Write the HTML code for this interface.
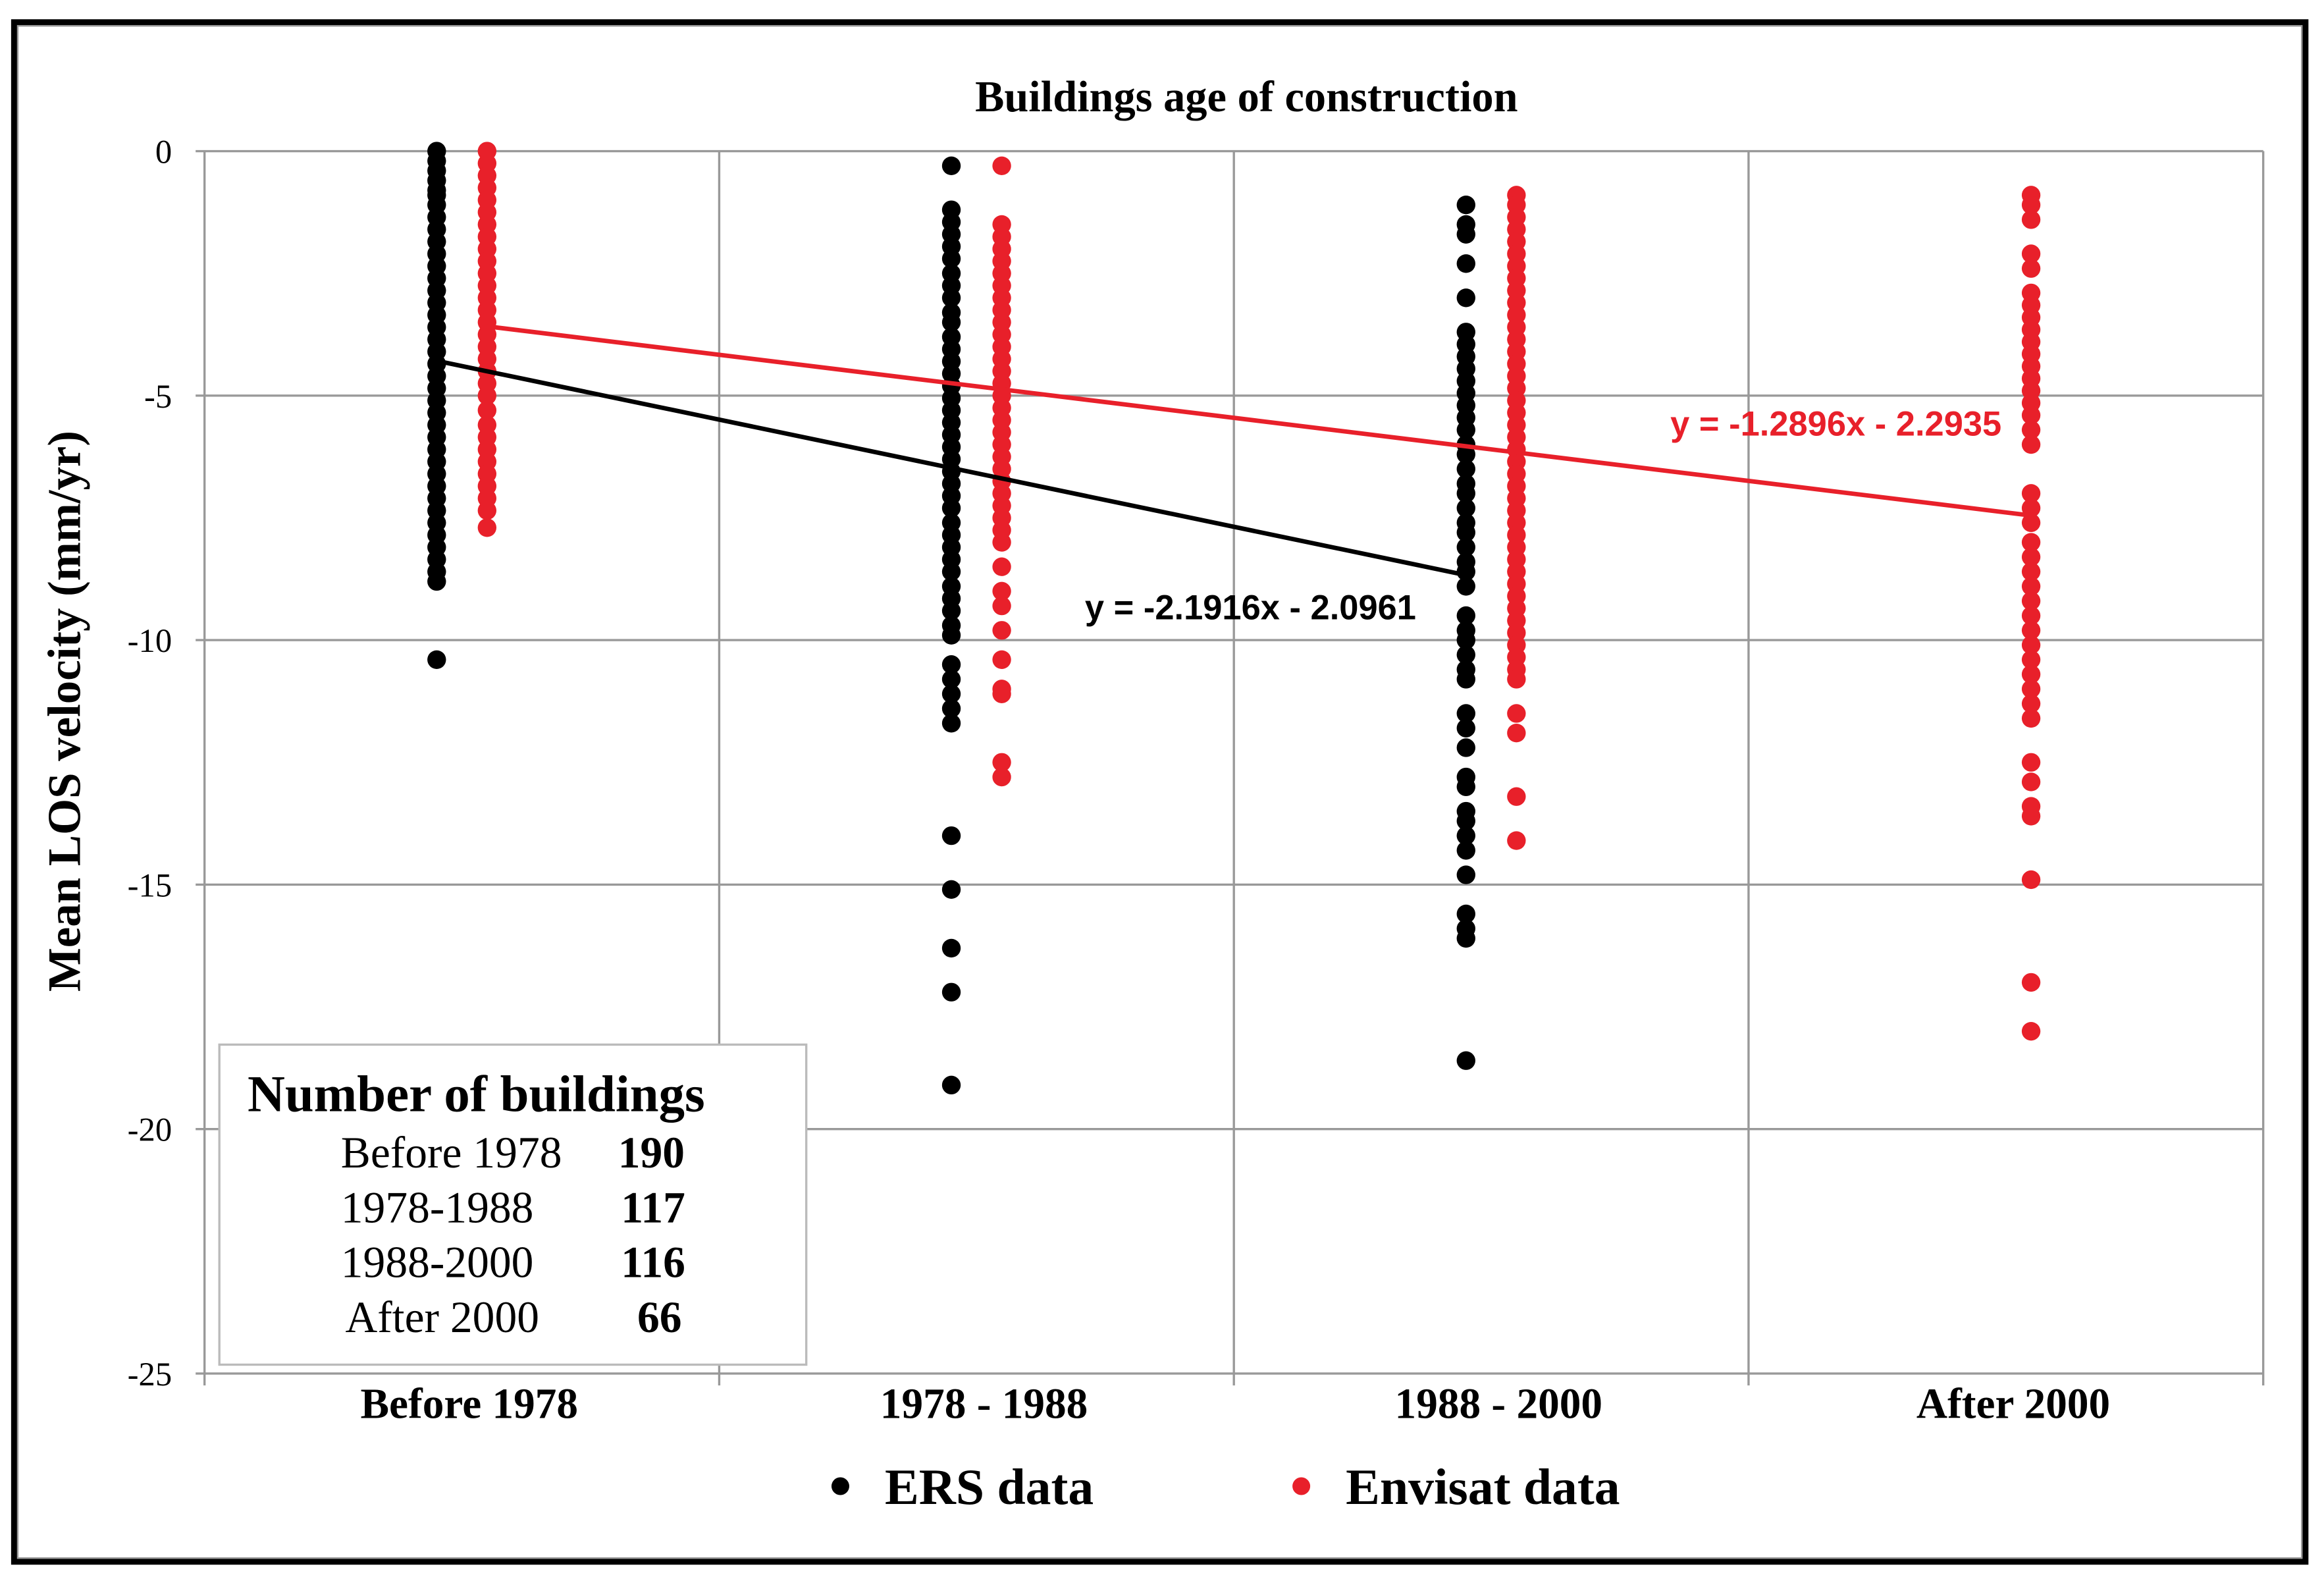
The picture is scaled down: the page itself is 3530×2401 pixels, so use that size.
<!DOCTYPE html>
<html><head><meta charset="utf-8"><style>
html,body{margin:0;padding:0;background:#fff}
svg{display:block}
</style></head><body>
<svg id="chart" width="3530" height="2401" viewBox="0 0 1568 1067" preserveAspectRatio="none" xmlns="http://www.w3.org/2000/svg">
<rect x="0" y="0" width="1568" height="1067" fill="#fff"/>
<rect x="9.5" y="15" width="1546" height="1039" fill="none" stroke="#000" stroke-width="4"/>
<rect x="12" y="17.5" width="1541" height="1034" fill="none" stroke="#999" stroke-width="1"/>
<text x="841" y="75" text-anchor="middle" font-family="Liberation Serif, serif" font-weight="bold" font-size="29.5">Buildings age of construction</text>
<g id="grid"></g>
<g id="ylabels"></g>
<text transform="translate(54,480) rotate(-90)" text-anchor="middle" font-family="Liberation Serif, serif" font-weight="bold" font-size="31.5">Mean LOS velocity (mm/yr)</text>
<g id="xlabels"></g>
<g id="points"></g>
<g id="trends"></g>
<text x="732" y="418" font-family="Liberation Sans, sans-serif" font-weight="bold" font-size="23.3" fill="#000">y = -2.1916x - 2.0961</text>
<text x="1127" y="294" font-family="Liberation Sans, sans-serif" font-weight="bold" font-size="23.3" fill="#e8202a">y = -1.2896x - 2.2935</text>
<g font-family="Liberation Serif, serif">
<rect x="148" y="705" width="396" height="216" fill="#fff" stroke="#bbb" stroke-width="1.5"/>
<text x="167" y="750" font-weight="bold" font-size="35">Number of buildings</text>
<g font-size="30">
<text x="230" y="788">Before 1978</text><text x="417" y="788" font-weight="bold">190</text>
<text x="230" y="825">1978-1988</text><text x="419" y="825" font-weight="bold">117</text>
<text x="230" y="862">1988-2000</text><text x="419" y="862" font-weight="bold">116</text>
<text x="233" y="899">After 2000</text><text x="430" y="899" font-weight="bold">66</text>
</g></g>
<g font-family="Liberation Serif, serif" font-weight="bold" font-size="34.5">
<g><circle cx="567" cy="1003" r="6" fill="#000"/><text x="597" y="1015">ERS data</text></g>
<g><circle cx="878" cy="1003" r="6" fill="#e8202a"/><text x="908" y="1015">Envisat data</text></g>
</g>
</svg>
<script>
const categories = ["Before 1978","1978 - 1988","1988 - 2000","After 2000"];
const yTicks = [0,-5,-10,-15,-20,-25];
const ers0 = [0,-0.2,-0.4,-0.6,-0.8,-0.9,-1.1,-1.35,-1.6,-1.85,-2.1,-2.35,-2.6,-2.85,-3.1,-3.35,-3.6,-3.85,-4.1,-4.35,-4.6,-4.85,-5.1,-5.35,-5.6,-5.85,-6.1,-6.35,-6.6,-6.85,-7.1,-7.35,-7.6,-7.85,-8.1,-8.35,-8.6,-8.8,-10.4];
const ers1 = [-0.3,-1.2,-1.45,-1.7,-1.95,-2.2,-2.5,-2.75,-3,-3.3,-3.5,-3.8,-4.05,-4.3,-4.55,-4.8,-5.05,-5.3,-5.55,-5.8,-6.05,-6.3,-6.55,-6.8,-7.05,-7.3,-7.6,-7.85,-8.1,-8.35,-8.6,-8.9,-9.15,-9.4,-9.7,-9.9,-10.5,-10.8,-11.1,-11.4,-11.7,-14,-15.1,-16.3,-17.2,-19.1];
const ers2 = [-1.1,-1.5,-1.7,-2.3,-3,-3.7,-3.95,-4.2,-4.45,-4.7,-4.95,-5.2,-5.45,-5.7,-6,-6.2,-6.5,-6.8,-7,-7.3,-7.6,-7.8,-8.1,-8.4,-8.6,-8.9,-9.5,-9.8,-10,-10.3,-10.6,-10.8,-11.5,-11.8,-12.2,-12.8,-13,-13.5,-13.7,-14,-14.3,-14.8,-15.6,-15.9,-16.1,-18.6];
const env0 = [0,-0.25,-0.5,-0.75,-1,-1.25,-1.5,-1.75,-2,-2.25,-2.5,-2.75,-3,-3.25,-3.5,-3.75,-4,-4.25,-4.5,-4.75,-5,-5.3,-5.6,-5.85,-6.1,-6.35,-6.6,-6.85,-7.1,-7.35,-7.7];
const env1 = [-0.3,-1.5,-1.75,-2,-2.25,-2.5,-2.75,-3,-3.25,-3.5,-3.75,-4,-4.25,-4.5,-4.75,-5,-5.25,-5.5,-5.75,-6,-6.25,-6.5,-6.75,-7,-7.25,-7.5,-7.75,-8,-8.5,-9,-9.3,-9.8,-10.4,-11,-11.1,-12.5,-12.8];
const env2 = [-0.9,-1.1,-1.35,-1.6,-1.85,-2.1,-2.35,-2.6,-2.85,-3.1,-3.35,-3.6,-3.85,-4.1,-4.35,-4.6,-4.85,-5.1,-5.35,-5.6,-5.85,-6.1,-6.35,-6.6,-6.85,-7.1,-7.35,-7.6,-7.85,-8.1,-8.35,-8.6,-8.85,-9.1,-9.35,-9.6,-9.85,-10.1,-10.35,-10.6,-10.8,-11.5,-11.9,-13.2,-14.1];
const env3 = [-0.9,-1.1,-1.4,-2.1,-2.4,-2.9,-3.15,-3.4,-3.65,-3.9,-4.15,-4.4,-4.65,-4.9,-5.15,-5.4,-5.7,-6,-7,-7.3,-7.6,-8,-8.3,-8.6,-8.9,-9.2,-9.5,-9.8,-10.1,-10.4,-10.7,-11,-11.3,-11.6,-12.5,-12.9,-13.4,-13.6,-14.9,-17,-18];
const ersSlope = -2.1916, ersIntercept = -2.0961;
const envSlope = -1.2896, envIntercept = -2.2935;

const NS = "http://www.w3.org/2000/svg";
const X0 = 138, X1 = 1527, Y0 = 102, Y1 = 927;
const band = (X1 - X0) / categories.length;
function xCat(i){ return X0 + band * (i + 0.5); }
function xCont(v){ return xCat(v - 1); }
function yScale(v){ return Y0 + (0 - v) / 25 * (Y1 - Y0); }
function mk(tag, attrs, parent){ const e = document.createElementNS(NS, tag); for (const k in attrs) e.setAttribute(k, attrs[k]); parent.appendChild(e); return e; }

const grid = document.getElementById('grid');
yTicks.forEach(t => {
  const l = mk('line', {x1: X0 - 6, x2: X1, y1: yScale(t), y2: yScale(t), stroke: '#999', 'stroke-width': 1.5}, grid);
  
  
  const tx = mk('text', {x: 116, y: yScale(t) + 8, 'text-anchor': 'end', 'font-family': 'Liberation Serif, serif', 'font-size': 22.5}, document.getElementById('ylabels'));
  tx.textContent = t;
  
  
});
for (let i = 0; i <= categories.length; i++) {
  const x = X0 + band * i;
  const l = mk('line', {x1: x, x2: x, y1: Y0, y2: Y1 + 8, stroke: '#999', 'stroke-width': 1.5}, grid);
  
  
}
categories.forEach((c, i) => {
  const t = mk('text', {x: xCat(i) + 5, y: 957, 'text-anchor': 'middle', 'font-family': 'Liberation Serif, serif', 'font-weight': 'bold', 'font-size': 29}, document.getElementById('xlabels'));
  t.textContent = c;
  
  
});

const pts = document.getElementById('points');
function drawCol(vals, i, off, color, name){
  vals.forEach(v => {
    const c = mk('circle', {cx: xCat(i) + off, cy: yScale(v), r: 6.3, fill: color}, pts);
    
    
  });
}
[ers0, ers1, ers2].forEach((a, i) => drawCol(a, i, -17, '#000', 'ers-point'));
[env0, env1, env2, env3].forEach((a, i) => drawCol(a, i, 17, '#e8202a', 'envisat-point'));

const tr = document.getElementById('trends');
const l1 = mk('line', {x1: xCont(1) - 17, y1: yScale(ersSlope * 1 + ersIntercept), x2: xCont(3) - 17, y2: yScale(ersSlope * 3 + ersIntercept), stroke: '#000', 'stroke-width': 3}, tr);


const l2 = mk('line', {x1: xCont(1) + 17, y1: yScale(envSlope * 1 + envIntercept), x2: xCont(4) + 17, y2: yScale(envSlope * 4 + envIntercept), stroke: '#e8202a', 'stroke-width': 3}, tr);


</script>
</body></html>
